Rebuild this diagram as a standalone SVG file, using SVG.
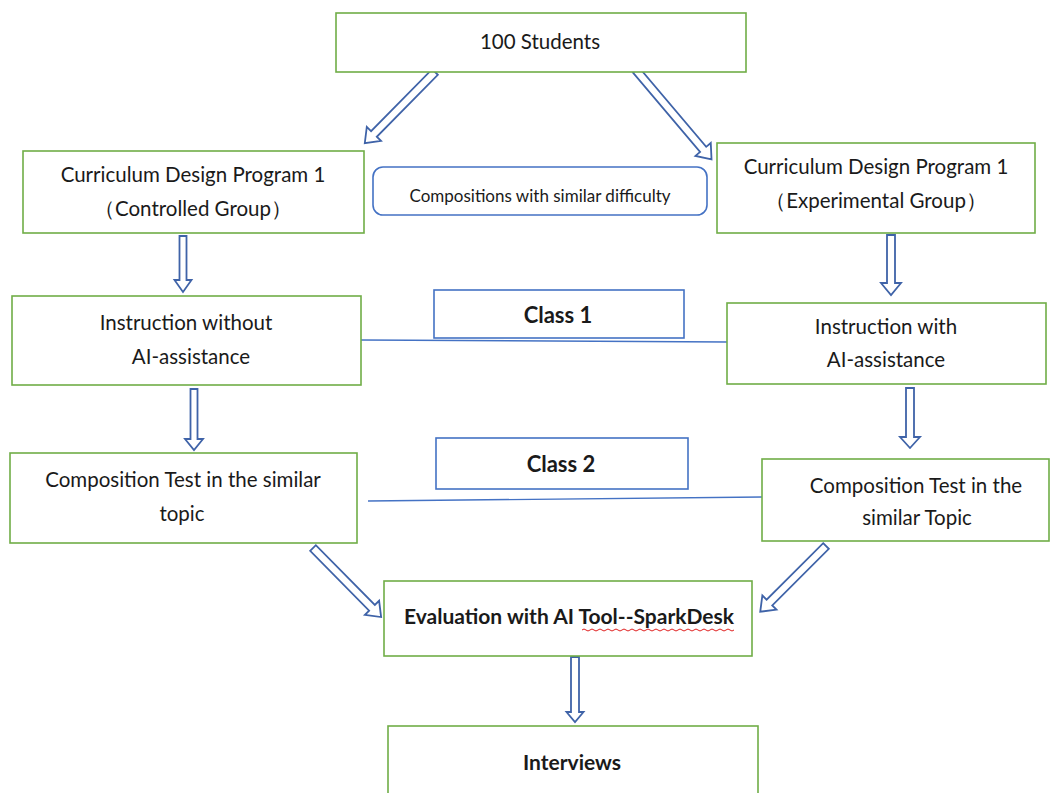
<svg xmlns="http://www.w3.org/2000/svg" width="1064" height="793" viewBox="0 0 1064 793">
<style>
.box{fill:#ffffff;stroke:#70AD47;stroke-width:1.6}
.bbox{fill:#ffffff;stroke:#4472C4;stroke-width:1.6}
.t{font-family:Lato,"Open Sans",sans-serif;font-size:20.5px;fill:#1a1a1a;text-anchor:middle}
.b{font-weight:bold;font-size:21px}
.arr{fill:#ffffff;stroke:#3F63A8;stroke-width:1.8;stroke-linejoin:miter}
.ln{stroke:#4472C4;stroke-width:1.4;fill:none}
</style>
<rect width="1064" height="793" fill="#ffffff"/>
<g id="connectors">
<path class="arr" transform="translate(435,72) rotate(44.6)" d="M-4,0 L4,0 L4,87 L10,87 L0,100 L-10,87 L-4,87 Z"/>
<path class="arr" transform="translate(636,70) rotate(-40.2)" d="M-4,0 L4,0 L4,104 L10,104 L0,117 L-10,104 L-4,104 Z"/>
<path class="arr" transform="translate(183,236)" d="M-3.5,0 L3.5,0 L3.5,44 L8.5,44 L0,56 L-8.5,44 L-3.5,44 Z"/>
<path class="arr" transform="translate(891,235)" d="M-4,0 L4,0 L4,48 L10,48 L0,60 L-10,48 L-4,48 Z"/>
<path class="arr" transform="translate(194,389)" d="M-3.5,0 L3.5,0 L3.5,50 L9,50 L0,61 L-9,50 L-3.5,50 Z"/>
<path class="arr" transform="translate(910,388)" d="M-4,0 L4,0 L4,49 L10,49 L0,60 L-10,49 L-4,49 Z"/>
<path class="arr" transform="translate(313,548) rotate(-44.6)" d="M-4,0 L4,0 L4,84 L10,84 L0,97 L-10,84 L-4,84 Z"/>
<path class="arr" transform="translate(826,546) rotate(45)" d="M-4,0 L4,0 L4,80 L10,80 L0,93 L-10,80 L-4,80 Z"/>
<path class="arr" transform="translate(575,657)" d="M-4,0 L4,0 L4,55 L8.5,55 L0,65 L-8.5,55 L-4,55 Z"/>
<line class="ln" x1="361" y1="340" x2="727" y2="342"/>
<line class="ln" x1="368" y1="501" x2="762" y2="497"/>
</g>
<g id="students">
<rect class="box" x="336" y="13" width="410" height="59"/>
<text class="t" x="540" y="49">100 Students</text>
</g>
<g id="controlled">
<rect class="box" x="23" y="151" width="341" height="82"/>
<text class="t" x="193" y="182">Curriculum Design Program 1</text>
<text class="t" x="193" y="216">（Controlled Group）</text>
</g>
<g id="experimental">
<rect class="box" x="717" y="143" width="318" height="90"/>
<text class="t" x="876" y="174">Curriculum Design Program 1</text>
<text class="t" x="876" y="208">（Experimental Group）</text>
</g>
<g id="compositions">
<rect class="bbox" x="373" y="167" width="334" height="48" rx="10" ry="10"/>
<text class="t" x="540" y="202" style="font-size:17px">Compositions with similar difficulty</text>
</g>
<g id="instr-left">
<rect class="box" x="12" y="296" width="349" height="89"/>
<text class="t" x="186" y="330">Instruction without</text>
<text class="t" x="191" y="364">AI-assistance</text>
</g>
<g id="class1">
<rect class="bbox" x="434" y="290" width="250" height="48"/>
<text class="t b" x="558" y="323" style="font-size:22px">Class 1</text>
</g>
<g id="instr-right">
<rect class="box" x="727" y="303" width="319" height="81"/>
<text class="t" x="886" y="334">Instruction with</text>
<text class="t" x="886" y="367">AI-assistance</text>
</g>
<g id="test-left">
<rect class="box" x="10" y="453" width="347" height="90"/>
<text class="t" x="183" y="487">Composition Test in the similar</text>
<text class="t" x="182" y="521">topic</text>
</g>
<g id="class2">
<rect class="bbox" x="436" y="438" width="252" height="51"/>
<text class="t b" x="561" y="472" style="font-size:22px">Class 2</text>
</g>
<g id="test-right">
<rect class="box" x="762" y="459" width="287" height="82"/>
<text class="t" x="916" y="493">Composition Test in the</text>
<text class="t" x="917" y="525">similar Topic</text>
</g>
<g id="evaluation">
<rect class="box" x="384" y="581" width="368" height="75"/>
<text class="t b" x="569" y="624">Evaluation with AI Tool--SparkDesk</text>
<path d="M582,630 q2,-2 4,0 t4,0 t4,0 t4,0 t4,0 t4,0 t4,0 t4,0 t4,0 t4,0 t4,0 t4,0 t4,0 t4,0 t4,0 t4,0 t4,0 t4,0 t4,0 t4,0 t4,0 t4,0 t4,0 t4,0 t4,0 t4,0 t4,0 t4,0 t4,0 t4,0 t4,0 t4,0 t4,0 t4,0 t4,0 t4,0 t4,0 t4,0" fill="none" stroke="#E02020" stroke-width="1"/>
</g>
<g id="interviews">
<rect class="box" x="388" y="726" width="370" height="80"/>
<text class="t b" x="572" y="770">Interviews</text>
</g>
</svg>
